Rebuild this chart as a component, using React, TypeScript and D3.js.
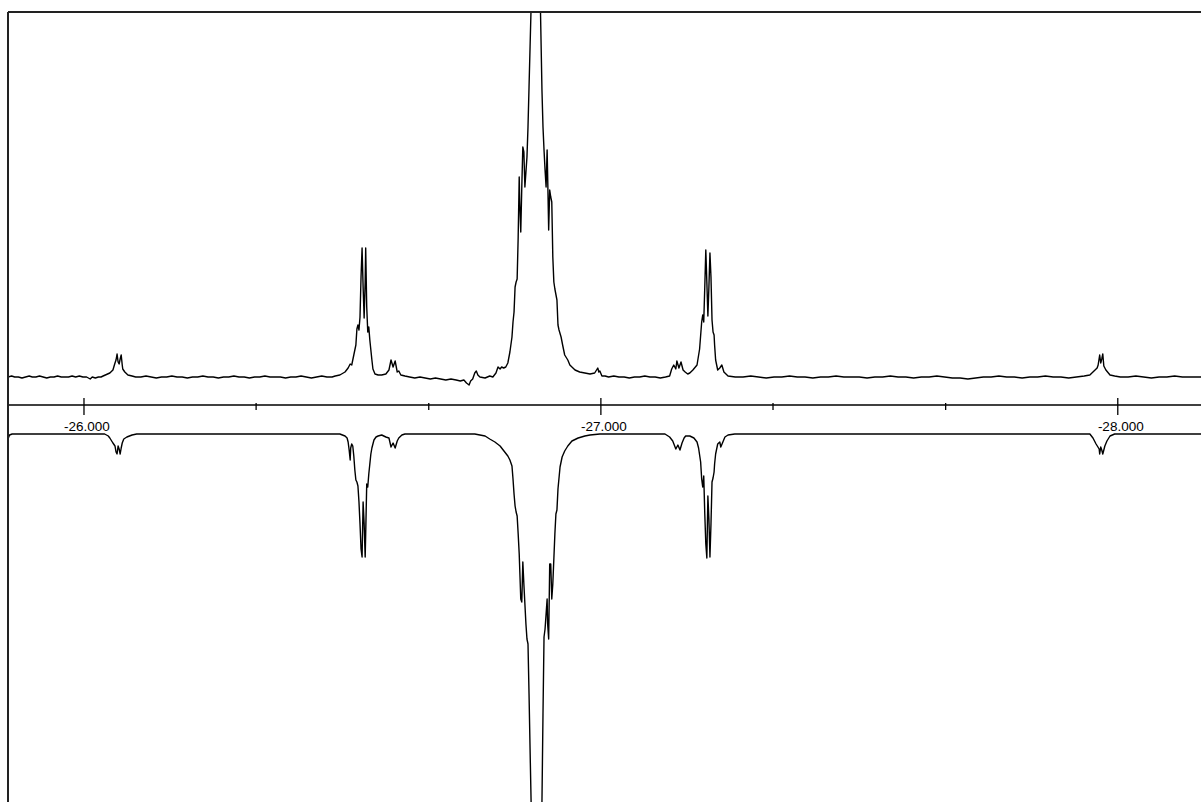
import React from "react";
import * as d3 from "d3";

// Chemical shift (ppm) / intensity pairs
const experimental: [number, number][] = [
  [-25.853, 0], [-25.860, 1], [-25.866, 0], [-25.873, 0], [-25.880, -1], [-25.887, 0], [-25.894, 1],
  [-25.900, 0], [-25.907, 0], [-25.914, 1], [-25.921, 0], [-25.928, -1], [-25.935, 0], [-25.942, 0],
  [-25.949, 1], [-25.956, 0], [-25.963, 0], [-25.970, 0], [-25.977, 1], [-25.984, 0], [-25.991, 1],
  [-25.998, 0], [-26.005, 0], [-26.012, -2], [-26.016, 0], [-26.022, -1], [-26.028, 0], [-26.033, 0],
  [-26.037, 1], [-26.050, 4], [-26.056, 7], [-26.060, 14], [-26.062, 17], [-26.064, 23], [-26.066, 15],
  [-26.068, 13], [-26.070, 18], [-26.072, 22], [-26.074, 12], [-26.075, 8], [-26.079, 5], [-26.085, 2],
  [-26.093, 1], [-26.100, 0], [-26.110, 0], [-26.120, 1], [-26.130, 0], [-26.140, -1], [-26.150, 0],
  [-26.160, 0], [-26.170, 1], [-26.180, 0], [-26.190, 0], [-26.200, -1], [-26.210, 0], [-26.220, 0],
  [-26.230, 1], [-26.240, 0], [-26.250, 0], [-26.260, -1], [-26.270, 0], [-26.280, 0], [-26.290, 1],
  [-26.300, 0], [-26.310, 0], [-26.320, -1], [-26.330, 0], [-26.340, 0], [-26.350, 1], [-26.360, 0],
  [-26.370, 0], [-26.380, 0], [-26.390, -1], [-26.400, 0], [-26.410, 0], [-26.420, 1], [-26.430, 0],
  [-26.440, -1], [-26.450, 0], [-26.460, 1], [-26.470, 0], [-26.480, 0], [-26.486, 1], [-26.495, 2],
  [-26.505, 5], [-26.511, 9], [-26.515, 13], [-26.518, 12], [-26.522, 22], [-26.526, 32], [-26.528, 48],
  [-26.530, 52], [-26.532, 47], [-26.534, 60], [-26.536, 100], [-26.538, 129], [-26.540, 90],
  [-26.542, 59], [-26.544, 95], [-26.545, 129], [-26.547, 70], [-26.549, 45], [-26.551, 50],
  [-26.553, 37], [-26.555, 27], [-26.557, 17], [-26.559, 8], [-26.563, 3], [-26.569, 2], [-26.576, 2],
  [-26.584, 3], [-26.590, 7], [-26.594, 17], [-26.598, 10], [-26.602, 16], [-26.606, 5], [-26.609, 6],
  [-26.613, 2], [-26.621, 1], [-26.630, 0], [-26.640, -1], [-26.650, 0], [-26.660, -1], [-26.670, -2],
  [-26.680, -1], [-26.690, -2], [-26.700, -3], [-26.710, -2], [-26.720, -3], [-26.728, -4], [-26.735, -3],
  [-26.740, -6], [-26.745, -8], [-26.748, -4], [-26.752, -2], [-26.756, 4], [-26.759, 6], [-26.762, 2],
  [-26.766, 0], [-26.776, -1], [-26.785, 1], [-26.791, 0], [-26.797, 4], [-26.801, 10], [-26.805, 8],
  [-26.808, 10], [-26.812, 9], [-26.816, 10], [-26.820, 14], [-26.824, 25], [-26.828, 40], [-26.830, 55],
  [-26.832, 65], [-26.834, 90], [-26.836, 95], [-26.838, 98], [-26.840, 140], [-26.842, 200],
  [-26.843, 175], [-26.845, 145], [-26.847, 190], [-26.849, 230], [-26.851, 225], [-26.853, 190],
  [-26.855, 205], [-26.857, 220], [-26.859, 250], [-26.861, 290], [-26.863, 330], [-26.865, 370],
  [-26.868, 600], [-26.874, 480], [-26.879, 600], [-26.883, 370], [-26.886, 287], [-26.888, 250],
  [-26.890, 227], [-26.892, 207], [-26.894, 190], [-26.896, 227], [-26.897, 202], [-26.899, 147],
  [-26.901, 187], [-26.903, 180], [-26.905, 175], [-26.907, 120], [-26.909, 95], [-26.911, 88],
  [-26.915, 77], [-26.917, 52], [-26.919, 47], [-26.923, 40], [-26.926, 32], [-26.930, 22], [-26.936, 17],
  [-26.940, 12], [-26.950, 7], [-26.959, 5], [-26.969, 4], [-26.979, 3], [-26.988, 4], [-26.994, 9],
  [-26.996, 5], [-26.998, 6], [-27.002, 1], [-27.008, 1], [-27.015, 0], [-27.025, 1], [-27.035, 0],
  [-27.045, 0], [-27.055, -1], [-27.065, 0], [-27.075, 0], [-27.085, 1], [-27.095, 0], [-27.105, 0],
  [-27.115, -1], [-27.125, 0], [-27.133, 1], [-27.137, 8], [-27.141, 12], [-27.145, 8], [-27.147, 16],
  [-27.151, 9], [-27.155, 15], [-27.159, 7], [-27.163, 5], [-27.168, 3], [-27.172, 4], [-27.178, 7],
  [-27.186, 12], [-27.191, 28], [-27.195, 55], [-27.197, 62], [-27.199, 55], [-27.201, 90], [-27.203, 127],
  [-27.205, 95], [-27.207, 61], [-27.209, 90], [-27.211, 124], [-27.213, 100], [-27.215, 57],
  [-27.217, 45], [-27.219, 42], [-27.220, 32], [-27.222, 17], [-27.226, 7], [-27.230, 9], [-27.234, 12],
  [-27.238, 5], [-27.246, 1], [-27.260, 0], [-27.275, 0], [-27.290, 1], [-27.305, 0], [-27.320, -1],
  [-27.335, 0], [-27.350, 0], [-27.365, 1], [-27.380, 0], [-27.395, 0], [-27.410, -1], [-27.425, 0],
  [-27.440, 0], [-27.455, 1], [-27.470, 0], [-27.485, 0], [-27.500, 0], [-27.515, -1], [-27.530, 0],
  [-27.545, 0], [-27.560, 1], [-27.575, 0], [-27.590, 0], [-27.605, -1], [-27.620, 0], [-27.635, 0],
  [-27.650, 1], [-27.665, 0], [-27.680, -1], [-27.695, -1], [-27.710, -2], [-27.725, -1], [-27.740, 0],
  [-27.755, 0], [-27.770, 1], [-27.785, 0], [-27.800, 0], [-27.815, -1], [-27.830, 0], [-27.845, 0],
  [-27.860, 1], [-27.875, 0], [-27.890, 0], [-27.905, -1], [-27.920, 0], [-27.935, 1], [-27.946, 2],
  [-27.952, 5], [-27.960, 9], [-27.962, 12], [-27.965, 22], [-27.967, 14], [-27.969, 18], [-27.971, 23],
  [-27.973, 11], [-27.977, 7], [-27.985, 2], [-27.994, 1], [-28.005, 0], [-28.020, 0], [-28.035, 1],
  [-28.050, 0], [-28.065, -1], [-28.080, 0], [-28.095, 0], [-28.110, 1], [-28.125, 0], [-28.140, 0],
  [-28.155, 0], [-28.165, 0],
];

const simulated: [number, number][] = [
  [-25.853, 5], [-25.856, 1], [-25.861, 0], [-26.040, 0], [-26.047, 2], [-26.050, 4], [-26.056, 9],
  [-26.060, 12], [-26.062, 18], [-26.064, 20], [-26.066, 12], [-26.068, 15], [-26.070, 20], [-26.072, 14],
  [-26.074, 9], [-26.077, 5], [-26.083, 3], [-26.093, 1], [-26.102, 0], [-26.495, 0], [-26.505, 2],
  [-26.509, 4], [-26.511, 8], [-26.513, 16], [-26.515, 26], [-26.516, 14], [-26.518, 10], [-26.520, 12],
  [-26.522, 22], [-26.524, 36], [-26.526, 46], [-26.528, 48], [-26.530, 52], [-26.532, 68], [-26.534, 90],
  [-26.536, 115], [-26.538, 123], [-26.540, 68], [-26.542, 90], [-26.544, 123], [-26.545, 100],
  [-26.547, 50], [-26.549, 53], [-26.551, 40], [-26.553, 30], [-26.555, 20], [-26.557, 14], [-26.561, 6],
  [-26.565, 3], [-26.569, 2], [-26.576, 1], [-26.584, 3], [-26.590, 4], [-26.594, 13], [-26.598, 9],
  [-26.602, 14], [-26.606, 7], [-26.609, 4], [-26.615, 1], [-26.621, 0], [-26.747, 0], [-26.756, 0],
  [-26.766, 1], [-26.776, 2], [-26.785, 5], [-26.795, 8], [-26.805, 12], [-26.814, 18], [-26.820, 22],
  [-26.824, 26], [-26.828, 32], [-26.830, 45], [-26.832, 60], [-26.834, 72], [-26.836, 78], [-26.838, 82],
  [-26.840, 100], [-26.842, 120], [-26.843, 135], [-26.845, 165], [-26.847, 168], [-26.849, 128],
  [-26.851, 150], [-26.853, 170], [-26.855, 190], [-26.857, 205], [-26.859, 210], [-26.861, 260],
  [-26.863, 315], [-26.865, 368], [-26.868, 600], [-26.874, 480], [-26.880, 600], [-26.884, 420],
  [-26.886, 368], [-26.888, 280], [-26.890, 203], [-26.892, 195], [-26.894, 180], [-26.896, 165],
  [-26.897, 190], [-26.899, 205], [-26.901, 130], [-26.903, 130], [-26.905, 165], [-26.907, 150],
  [-26.909, 125], [-26.911, 100], [-26.913, 80], [-26.915, 76], [-26.917, 55], [-26.921, 33],
  [-26.925, 23], [-26.930, 17], [-26.936, 12], [-26.944, 7], [-26.956, 4], [-26.969, 2], [-26.979, 1],
  [-26.998, 0], [-27.124, 0], [-27.133, 3], [-27.139, 7], [-27.145, 15], [-27.149, 11], [-27.153, 16],
  [-27.157, 9], [-27.161, 4], [-27.164, 2], [-27.172, 2], [-27.180, 4], [-27.186, 8], [-27.189, 14],
  [-27.193, 28], [-27.195, 45], [-27.197, 53], [-27.199, 42], [-27.201, 80], [-27.203, 110],
  [-27.205, 124], [-27.207, 62], [-27.209, 85], [-27.211, 123], [-27.213, 90], [-27.215, 48],
  [-27.217, 44], [-27.219, 38], [-27.220, 30], [-27.222, 20], [-27.226, 10], [-27.230, 8], [-27.232, 13],
  [-27.236, 8], [-27.240, 3], [-27.246, 1], [-27.259, 0], [-27.946, 0], [-27.952, 4], [-27.958, 10],
  [-27.964, 15], [-27.965, 20], [-27.967, 13], [-27.969, 16], [-27.971, 20], [-27.975, 12],
  [-27.979, 7], [-27.985, 2], [-27.994, 0], [-28.165, 0],
];

const majorTicks = [-26, -27, -28];
const minorTicks = [-26.333, -26.667, -27.333, -27.667];
const fmt3 = d3.format(".3f");
const tickFormat = (v: number) => fmt3(v).replace("\u2212", "-");

const W = 1201;
const H = 802;

export default function App() {
  const x = d3.scaleLinear().domain([-25.853, -28.161]).range([8, 1201]);
  const yTop = d3.scaleLinear().domain([0, 100]).range([377, 277]);
  const yBot = d3.scaleLinear().domain([0, 100]).range([434, 534]);
  const axisY = 405;

  const lineTop = d3.line<[number, number]>().x((d) => x(d[0])).y((d) => yTop(d[1]));
  const lineBot = d3.line<[number, number]>().x((d) => x(d[0])).y((d) => yBot(d[1]));

  return (
    <svg
      width={W}
      height={H}
      style={{ position: "fixed", left: 0, top: 0, background: "#fff" }}
    >
      <defs>
        <clipPath id="plot">
          <rect x={9} y={13} width={W} height={H} />
        </clipPath>
      </defs>
      <rect x={0} y={0} width={W} height={H} fill="#fff" />
      <g clipPath="url(#plot)" fill="none" stroke="#000" strokeWidth={1.4} strokeLinejoin="round">
        <path d={lineTop(experimental) || ""} />
        <path d={lineBot(simulated) || ""} />
      </g>
      {/* axis */}
      <line x1={8} x2={W} y1={axisY} y2={axisY} stroke="#000" strokeWidth={1.3} />
      {majorTicks.map((t) => (
        <g key={"M" + t}>
          <line x1={x(t)} x2={x(t)} y1={axisY - 7} y2={axisY + 10} stroke="#000" strokeWidth={1.3} />
          <text
            x={x(t) + 3}
            y={430.5}
            textAnchor="middle"
            fontFamily="Arial, 'Liberation Sans', sans-serif"
            fontSize={13.5}
            fill="#000"
          >
            {tickFormat(t)}
          </text>
        </g>
      ))}
      {minorTicks.map((t) => (
        <line key={"m" + t} x1={x(t)} x2={x(t)} y1={axisY - 2} y2={axisY + 5} stroke="#000" strokeWidth={1.3} />
      ))}
      {/* frame */}
      <line x1={8} x2={8} y1={12} y2={H} stroke="#222" strokeWidth={2} />
      <line x1={8} x2={W} y1={12} y2={12} stroke="#222" strokeWidth={2} />
    </svg>
  );
}
